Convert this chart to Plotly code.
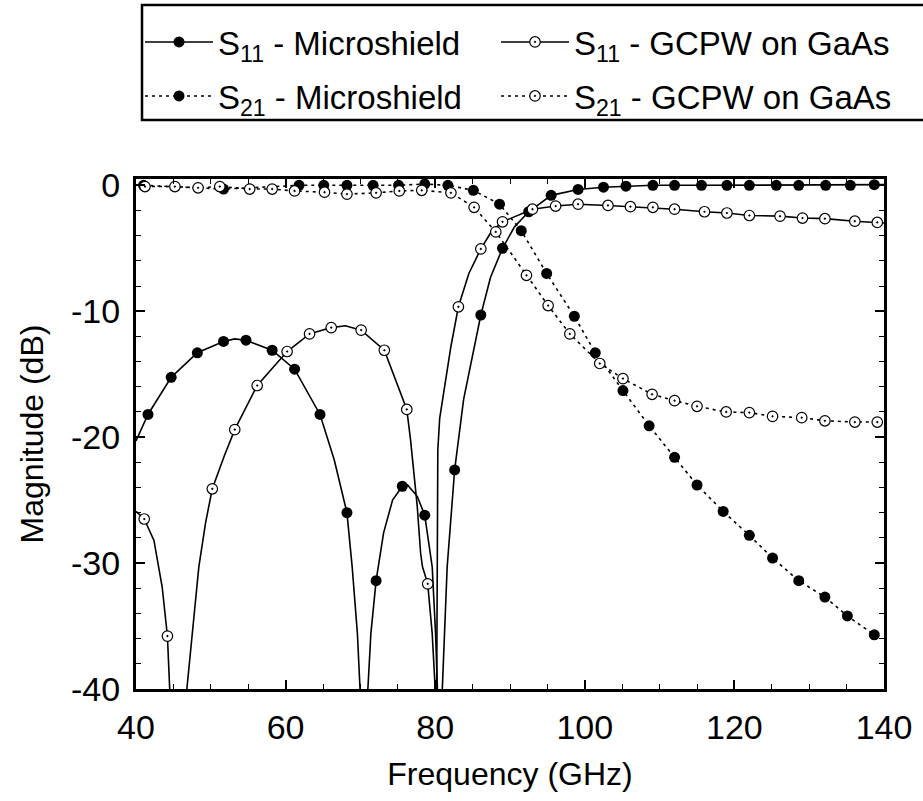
import plotly.graph_objects as go

# ---------------- data ----------------
# S11 Microshield: measured markers
s11_ms_f = [41.6, 44.7, 48.2, 51.7, 54.7, 58.2, 61.2, 64.6, 68.2, 72.1, 75.6, 78.6, 82.6, 86.1, 89.0,
            92.5, 95.5, 99.1, 102.5, 105.5, 109.1, 112.0, 115.6, 119.0, 122.0, 125.6, 128.6, 132.2, 135.5, 138.7]
s11_ms_db = [-18.2, -15.25, -13.3, -12.4, -12.3, -13.1, -14.6, -18.2, -26.0, -31.4, -23.9, -26.2, -22.6, -10.3, -5.0,
             -2.1, -0.8, -0.33, -0.15, -0.07, 0.0, 0.0, 0.0, 0.0, 0.0, 0.0, 0.0, 0.0, 0.0, 0.05]
# S11 Microshield: traced curve
s11_ms_curve_f = [40.0, 41.6, 44.7, 48.2, 51.7, 53.2, 54.7, 58.2, 61.2, 64.6, 66.5, 68.2, 68.9, 69.6, 69.95, 70.45,
                  71.0, 71.4, 72.1, 73.1, 74.3, 75.6, 76.3, 77.6, 78.6, 79.6, 80.05, 80.3, 80.6, 80.95, 81.6,
                  82.6, 83.8, 86.1, 87.4, 89.0, 90.6, 92.5, 95.5, 99.1, 102.5, 105.5, 109.1, 115.6, 122.0,
                  128.6, 135.5, 140.0]
s11_ms_curve_db = [-20.3, -18.2, -15.25, -13.3, -12.4, -12.2, -12.3, -13.1, -14.6, -18.2, -21.8, -26.0, -30.3, -35.6,
                   -40.0, -55.0, -40.0, -35.6, -31.4, -27.6, -25.0, -23.9, -23.8, -24.7, -26.2, -30.3, -35.6, -40.0,
                   -55.0, -40.0, -30.3, -22.6, -17.0, -10.3, -7.3, -5.0, -3.3, -2.1, -0.8, -0.33, -0.15, -0.07,
                   0.0, 0.0, 0.0, 0.0, 0.0, 0.05]

# S21 Microshield
s21_ms_f = [41.0, 51.7, 61.8, 65.1, 68.2, 71.7, 75.1, 78.6, 81.7, 85.1, 88.6, 91.5, 94.9, 98.6, 101.4,
            105.1, 108.6, 112.0, 115.0, 118.5, 122.0, 125.1, 128.6, 132.1, 135.1, 138.7]
s21_ms_db = [0.0, -0.3, 0.0, 0.0, 0.0, 0.0, 0.0, 0.1, 0.0, -0.4, -1.5, -3.6, -7.0, -10.4, -13.3,
             -16.3, -19.1, -21.6, -23.8, -25.9, -27.8, -29.6, -31.4, -32.7, -34.2, -35.7]

# S11 GCPW on GaAs: measured markers
s11_gc_f = [41.1, 44.2, 50.2, 53.2, 56.2, 60.2, 63.2, 66.1, 70.1, 73.2, 76.2, 79.0, 83.1, 86.1, 89.0,
            93.0, 96.1, 99.1, 103.1, 106.1, 109.1, 112.0, 116.0, 119.0, 122.0, 126.1, 129.1, 132.1, 136.1, 139.1]
s11_gc_db = [-26.5, -35.8, -24.1, -19.4, -15.9, -13.2, -11.8, -11.3, -11.5, -13.1, -17.8, -31.65, -9.65, -5.05, -2.9,
             -1.9, -1.65, -1.5, -1.6, -1.7, -1.75, -1.9, -2.1, -2.2, -2.4, -2.45, -2.6, -2.65, -2.85, -2.95]
# S11 GCPW on GaAs: traced curve
s11_gc_curve_f = [40.0, 41.1, 42.4, 43.5, 44.2, 44.55, 45.6, 46.8, 47.55, 48.4, 49.3, 50.2, 51.8, 53.2, 56.2,
                  60.2, 63.2, 66.1, 68.0, 70.1, 73.2, 76.2, 76.7, 77.6, 78.05, 78.3, 79.0, 79.6, 80.0, 80.1,
                  80.2, 80.25, 80.35, 80.6, 81.2, 82.1, 83.1, 84.5, 86.1, 87.5, 89.0, 93.0, 96.1, 99.1, 103.1,
                  106.1, 109.1, 112.0, 116.0, 119.0, 122.0, 126.1, 129.1, 132.1, 136.1, 139.1, 140.0]
s11_gc_curve_db = [-25.9, -26.5, -28.2, -31.9, -35.8, -40.0, -55.0, -40.0, -35.6, -30.3, -26.8, -24.1, -21.5, -19.4,
                   -15.9, -13.2, -11.8, -11.3, -11.15, -11.5, -13.1, -17.8, -20.2, -25.5, -29.2, -30.3, -31.65,
                   -35.6, -40.0, -55.0, -40.0, -30.0, -21.0, -18.5, -16.3, -12.8, -9.65, -7.0, -5.05, -3.7, -2.9,
                   -1.9, -1.65, -1.5, -1.6, -1.7, -1.75, -1.9, -2.1, -2.2, -2.4, -2.45, -2.6, -2.65, -2.85,
                   -2.95, -3.0]

# S21 GCPW on GaAs
s21_gc_f = [41.2, 45.2, 48.3, 51.2, 55.2, 58.2, 61.2, 65.2, 68.2, 72.1, 75.2, 78.2, 82.1, 85.2, 88.1,
            92.2, 95.1, 98.0, 102.0, 105.1, 109.0, 112.0, 115.0, 118.9, 122.0, 125.1, 129.0, 132.1, 136.1, 139.1]
s21_gc_db = [-0.1, -0.1, -0.2, -0.1, -0.3, -0.3, -0.45, -0.55, -0.7, -0.6, -0.45, -0.4, -0.6, -1.75, -3.7,
             -7.15, -9.55, -11.8, -14.15, -15.35, -16.6, -17.1, -17.55, -18.0, -18.05, -18.35, -18.45, -18.7,
             -18.8, -18.8]

legend_names = ["S<sub>11</sub> - Microshield", "S<sub>21</sub> - Microshield",
                "S<sub>11</sub> - GCPW on GaAs", "S<sub>21</sub> - GCPW on GaAs"]
x_title = "Frequency (GHz)"
y_title = "Magnitude (dB)"
x_ticks = [40, 60, 80, 100, 120, 140]
y_ticks = [0, -10, -20, -30, -40]

# ---------------- styling ----------------
FONT = "Liberation Sans, Arial, Helvetica, sans-serif"
BLACK = "black"
filled = dict(symbol="circle", size=11, color=BLACK, line=dict(width=0))
opened = dict(symbol="circle-dot", size=10.5, color="white", line=dict(color=BLACK, width=1.2))
solid = dict(color=BLACK, width=1.6)
dotted = dict(color=BLACK, width=1.6, dash="3px,4px")

fig = go.Figure()

# S11 Microshield: traced curve + measured markers
fig.add_trace(go.Scatter(x=s11_ms_curve_f, y=s11_ms_curve_db, mode="lines", line=solid,
                         showlegend=False, hoverinfo="skip"))
fig.add_trace(go.Scatter(x=s11_ms_f, y=s11_ms_db, mode="markers", marker=filled, showlegend=False))
# S21 Microshield
fig.add_trace(go.Scatter(x=s21_ms_f, y=s21_ms_db, mode="lines+markers", line=dotted, marker=filled,
                         name=legend_names[1], legend="legend3"))
# S11 GCPW
fig.add_trace(go.Scatter(x=s11_gc_curve_f, y=s11_gc_curve_db, mode="lines", line=solid,
                         showlegend=False, hoverinfo="skip"))
fig.add_trace(go.Scatter(x=s11_gc_f, y=s11_gc_db, mode="markers", marker=opened, showlegend=False))
# S21 GCPW
fig.add_trace(go.Scatter(x=s21_gc_f, y=s21_gc_db, mode="lines+markers", line=dotted, marker=opened,
                         name=legend_names[3], legend="legend4"))
# legend-only entries for the S11 series (solid line with marker)
fig.add_trace(go.Scatter(x=[None], y=[None], mode="lines+markers", line=solid, marker=filled,
                         name=legend_names[0], legend="legend"))
fig.add_trace(go.Scatter(x=[None], y=[None], mode="lines+markers", line=solid, marker=opened,
                         name=legend_names[2], legend="legend2"))

L, R, T, B = 136, 39, 179, 112
W, H = 923, 801
pw, ph = W - L - R, H - T - B


def px2paper_x(px):
    return (px - L) / pw


def py2paper_y(py):
    return (H - B - py) / ph


leg_common = dict(bgcolor="rgba(0,0,0,0)", borderwidth=0, font=dict(family=FONT, size=33, color=BLACK),
                  itemwidth=68, xanchor="left", yanchor="middle", itemclick=False, itemdoubleclick=False)
fig.update_layout(
    legend=dict(x=px2paper_x(140), y=py2paper_y(42), **leg_common),
    legend2=dict(x=px2paper_x(496), y=py2paper_y(42), **leg_common),
    legend3=dict(x=px2paper_x(140), y=py2paper_y(96), **leg_common),
    legend4=dict(x=px2paper_x(496), y=py2paper_y(96), **leg_common),
)

# legend frame (runs past the right edge, as in the reference)
fig.add_shape(type="rect", xref="paper", yref="paper",
              x0=px2paper_x(142), x1=px2paper_x(1000), y0=py2paper_y(120), y1=py2paper_y(5),
              line=dict(color=BLACK, width=2.5), fillcolor="rgba(0,0,0,0)", layer="below")

axis_common = dict(showline=True, linecolor=BLACK, linewidth=3, mirror="ticks", ticks="inside",
                   ticklen=9, tickwidth=1.5, tickcolor=BLACK, showgrid=False, zeroline=False,
                   tickfont=dict(family=FONT, size=34, color=BLACK),
                   title_font=dict(family=FONT, size=32, color=BLACK))
fig.update_xaxes(range=[40, 140], tickvals=x_ticks, ticktext=[str(v) for v in x_ticks],
                 minor=dict(dtick=5, ticks="inside", ticklen=5, tickwidth=1.2, tickcolor=BLACK, showgrid=False),
                 title_text=x_title, title_standoff=18, ticklabelstandoff=6, **axis_common)
fig.update_yaxes(range=[-40, 0.5], tickvals=y_ticks, ticktext=[str(v) for v in y_ticks],
                 minor=dict(dtick=2, tick0=0, ticks="inside", ticklen=5, tickwidth=1.2, tickcolor=BLACK, showgrid=False),
                 title_text=y_title, title_standoff=18, ticklabelstandoff=6, **axis_common)

fig.update_layout(width=W, height=H, margin=dict(l=L, r=R, t=T, b=B, autoexpand=False),
                  paper_bgcolor="white", plot_bgcolor="white",
                  font=dict(family=FONT, color=BLACK), hovermode=False)

fig.write_html("out.html")
